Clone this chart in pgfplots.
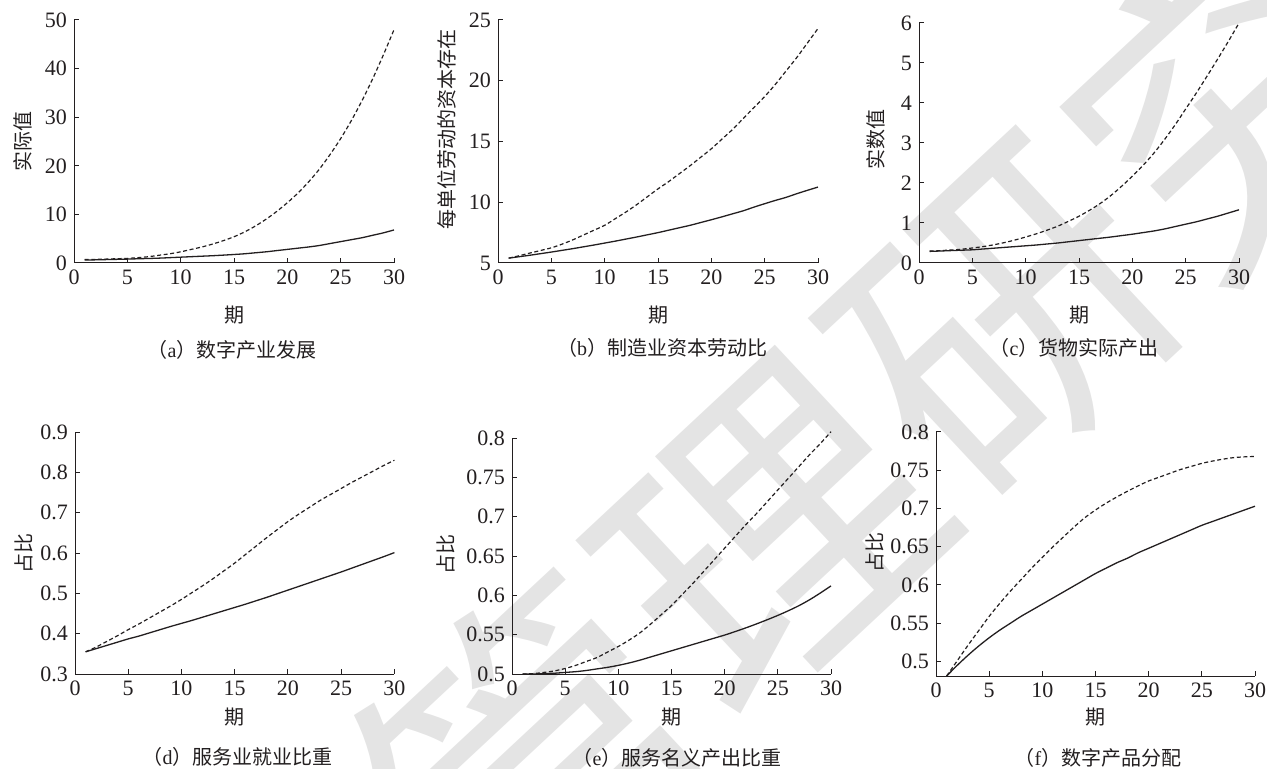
\documentclass[border=0pt]{standalone}
\usepackage{fontspec}
\setmainfont{Liberation Serif}
\newfontfamily\tnr{Liberation Serif}
\newfontfamily\cjk{Noto Sans CJK SC}
\usepackage{pgfplots}
\pgfplotsset{compat=1.18}
\definecolor{ink}{RGB}{35,31,32}
\definecolor{wmgray}{RGB}{228,228,228}
\pgfplotsset{
  sub/.style={
    scale only axis, anchor=south west,
    axis x line*=bottom, axis y line*=left,
    axis line style={-, line width=0.5pt, ink},
    xmin=0, xmax=30, xtick={0,5,...,30},
    tick align=inside, major tick length=2.5pt,
    every tick/.style={ink, line width=0.5pt},
    ticklabel style={font=\tnr\fontsize{11}{12}\selectfont, text=ink},
    /pgf/number format/assume math mode=true,
    yticklabel style={/pgf/number format/fixed, /pgf/number format/precision=2},
    label style={font=\cjk\fontsize{10}{12}\selectfont, text=ink},
    xlabel style={at={(axis description cs:0.5,0)}, anchor=center},
    clip=false,
  },
  solidl/.style={ink, line width=0.65pt, no markers, smooth},
  dashl/.style={ink, line width=0.6pt, no markers, smooth, dash pattern=on 2pt off 1.3pt},
}
\begin{document}
\begin{tikzpicture}
\path[use as bounding box] (0,0) rectangle (633.5pt,-384.5pt);

% watermark
\node[rotate=43, text=wmgray, font=\cjk\fontsize{160}{160}\selectfont, inner sep=0pt] at (442pt,-212pt) {管理研究};

% (a)
\begin{axis}[sub, at={(37pt,-131.5pt)}, width=160pt, height=121.5pt,
  ymin=0, ymax=50, ytick={0,10,...,50},
  xlabel={期}, xlabel style={yshift=-26pt},
  ylabel={实际值}, ylabel style={at={([xshift=-25.5pt]axis description cs:0,0.5)}, anchor=center}]
\addplot[dashl] coordinates {(1,0.7)(2,0.75)(3,0.8)(4,0.88)(5,0.95)(6,1.1)(7,1.3)(8,1.6)(9,1.9)(10,2.3)(11,2.8)(12,3.3)(13,3.9)(14,4.6)(15,5.4)(16,6.4)(17,7.6)(18,9.0)(19,10.6)(20,12.4)(21,14.4)(22,16.7)(23,19.3)(24,22.3)(25,25.6)(26,29.3)(27,33.4)(28,37.9)(29,42.8)(30,48.0)};
\addplot[solidl] coordinates {(1,0.6)(2,0.65)(3,0.7)(4,0.75)(5,0.8)(6,0.87)(7,0.93)(8,1.0)(9,1.1)(10,1.2)(11,1.3)(12,1.4)(13,1.5)(14,1.62)(15,1.75)(16,1.9)(17,2.1)(18,2.3)(19,2.55)(20,2.8)(21,3.05)(22,3.3)(23,3.6)(24,4.0)(25,4.4)(26,4.8)(27,5.2)(28,5.7)(29,6.2)(30,6.8)};
\end{axis}

% (b)
\begin{axis}[sub, at={(249pt,-131.5pt)}, width=160pt, height=121.5pt,
  ymin=5, ymax=25, ytick={5,10,...,25},
  xlabel={期}, xlabel style={yshift=-26pt},
  ylabel={每单位劳动的资本存在}, ylabel style={at={([xshift=-25.7pt,yshift=6pt]axis description cs:0,0.5)}, anchor=center}]
\addplot[dashl] coordinates {(1,5.40)(2,5.60)(3,5.82)(4,6.03)(5,6.25)(6,6.55)(7,6.9)(8,7.3)(9,7.7)(10,8.1)(11,8.65)(12,9.2)(13,9.8)(14,10.45)(15,11.1)(16,11.7)(17,12.35)(18,13.0)(19,13.7)(20,14.4)(21,15.2)(22,16.0)(23,16.9)(24,17.8)(25,18.7)(26,19.7)(27,20.8)(28,21.9)(29,23.1)(30,24.3)};
\addplot[solidl] coordinates {(1,5.4)(2,5.52)(3,5.64)(4,5.77)(5,5.9)(6,6.04)(7,6.18)(8,6.33)(9,6.48)(10,6.64)(11,6.8)(12,6.97)(13,7.14)(14,7.32)(15,7.5)(16,7.7)(17,7.9)(18,8.1)(19,8.33)(20,8.56)(21,8.8)(22,9.05)(23,9.3)(24,9.6)(25,9.88)(26,10.15)(27,10.4)(28,10.7)(29,10.98)(30,11.25)};
\end{axis}

% (c)
\begin{axis}[sub, at={(459.5pt,-131.5pt)}, width=160pt, height=120pt,
  ymin=0, ymax=6, ytick={0,1,...,6},
  xlabel={期}, xlabel style={yshift=-26pt},
  ylabel={实数值}, ylabel style={at={([xshift=-21.5pt,yshift=1.5pt]axis description cs:0,0.5)}, anchor=center}]
\addplot[dashl] coordinates {(1,0.3)(2,0.31)(3,0.325)(4,0.345)(5,0.375)(6,0.41)(7,0.455)(8,0.51)(9,0.575)(10,0.65)(11,0.73)(12,0.82)(13,0.92)(14,1.04)(15,1.17)(16,1.32)(17,1.49)(18,1.69)(19,1.92)(20,2.17)(21,2.44)(22,2.74)(23,3.08)(24,3.45)(25,3.85)(26,4.25)(27,4.67)(28,5.1)(29,5.54)(30,6.0)};
\addplot[solidl] coordinates {(1,0.29)(2,0.3)(3,0.31)(4,0.32)(5,0.33)(6,0.35)(7,0.37)(8,0.39)(9,0.41)(10,0.43)(11,0.45)(12,0.475)(13,0.5)(14,0.53)(15,0.56)(16,0.59)(17,0.62)(18,0.65)(19,0.685)(20,0.72)(21,0.76)(22,0.8)(23,0.85)(24,0.91)(25,0.97)(26,1.03)(27,1.1)(28,1.17)(29,1.25)(30,1.33)};
\end{axis}

% (d)
\begin{axis}[sub, at={(37.5pt,-337pt)}, width=159.7pt, height=121pt,
  ymin=0.3, ymax=0.9, ytick={0.3,0.4,...,0.9},
  xlabel={期}, xlabel style={yshift=-21.3pt},
  ylabel={占比}, ylabel style={at={([xshift=-25.8pt]axis description cs:0,0.5)}, anchor=center}]
\addplot[dashl] coordinates {(1,0.355)(2,0.367)(3,0.381)(4,0.395)(5,0.41)(6,0.424)(7,0.439)(8,0.454)(9,0.469)(10,0.485)(11,0.502)(12,0.519)(13,0.537)(14,0.556)(15,0.575)(16,0.596)(17,0.617)(18,0.638)(19,0.658)(20,0.678)(21,0.696)(22,0.713)(23,0.73)(24,0.745)(25,0.76)(26,0.775)(27,0.789)(28,0.803)(29,0.817)(30,0.83)};
\addplot[solidl] coordinates {(1,0.355)(2,0.363)(3,0.371)(4,0.379)(5,0.387)(6,0.394)(7,0.402)(8,0.41)(9,0.418)(10,0.4255)(11,0.433)(12,0.441)(13,0.449)(14,0.457)(15,0.465)(16,0.473)(17,0.4815)(18,0.49)(19,0.499)(20,0.508)(21,0.517)(22,0.526)(23,0.535)(24,0.544)(25,0.553)(26,0.5625)(27,0.572)(28,0.5815)(29,0.591)(30,0.601)};
\end{axis}

% (e)
\begin{axis}[sub, at={(256pt,-337pt)}, width=159.5pt, height=118pt,
  ymin=0.5, ymax=0.8, ytick={0.5,0.55,...,0.8},
  xlabel={期}, xlabel style={yshift=-21.3pt},
  ylabel={占比}, ylabel style={at={([xshift=-33pt,yshift=1pt]axis description cs:0,0.5)}, anchor=center}]
\addplot[dashl] coordinates {(1,0.5)(2,0.5005)(3,0.502)(4,0.504)(5,0.507)(6,0.511)(7,0.516)(8,0.521)(9,0.528)(10,0.535)(11,0.543)(12,0.552)(13,0.563)(14,0.575)(15,0.587)(16,0.601)(17,0.615)(18,0.630)(19,0.645)(20,0.660)(21,0.675)(22,0.690)(23,0.704)(24,0.719)(25,0.734)(26,0.749)(27,0.764)(28,0.779)(29,0.793)(30,0.808)};
\addplot[solidl] coordinates {(1,0.5)(2,0.5)(3,0.5005)(4,0.501)(5,0.502)(6,0.503)(7,0.5045)(8,0.5065)(9,0.5085)(10,0.511)(11,0.514)(12,0.5175)(13,0.5215)(14,0.5255)(15,0.5295)(16,0.5335)(17,0.5375)(18,0.5415)(19,0.5455)(20,0.5495)(21,0.554)(22,0.5587)(23,0.5637)(24,0.569)(25,0.5745)(26,0.5805)(27,0.587)(28,0.5945)(29,0.603)(30,0.612)};
\end{axis}

% (f)
\begin{axis}[sub, at={(468pt,-338pt)}, width=159.5pt, height=122pt,
  ymin=0.481, ymax=0.8, ytick={0.5,0.55,...,0.8},
  xlabel={期}, xlabel style={yshift=-20.3pt},
  ylabel={占比}, ylabel style={at={([xshift=-30.5pt,yshift=0.7pt]axis description cs:0,0.5)}, anchor=center}]
\addplot[dashl] coordinates {(1,0.481)(2,0.501)(3,0.521)(4,0.540)(5,0.559)(6,0.576)(7,0.592)(8,0.607)(9,0.622)(10,0.636)(11,0.65)(12,0.663)(13,0.676)(14,0.688)(15,0.698)(16,0.707)(17,0.715)(18,0.7225)(19,0.7295)(20,0.736)(21,0.741)(22,0.746)(23,0.751)(24,0.755)(25,0.759)(26,0.762)(27,0.7645)(28,0.7665)(29,0.7675)(30,0.768)};
\addplot[solidl] coordinates {(1,0.481)(2,0.495)(3,0.508)(4,0.52)(5,0.531)(6,0.541)(7,0.55)(8,0.559)(9,0.567)(10,0.575)(11,0.583)(12,0.591)(13,0.599)(14,0.607)(15,0.615)(16,0.622)(17,0.629)(18,0.635)(19,0.642)(20,0.648)(21,0.654)(22,0.660)(23,0.666)(24,0.672)(25,0.678)(26,0.683)(27,0.688)(28,0.693)(29,0.698)(30,0.703)};
\end{axis}

% captions
\begin{scope}[every node/.style={font=\tnr\fontsize{10}{12}\selectfont, text=ink, inner sep=0pt}]
\node at (116pt,-175pt) {{\cjk （}a{\cjk ）数字产业发展}};
\node at (331pt,-174pt) {{\cjk （}b{\cjk ）制造业资本劳动比}};
\node at (537pt,-174pt) {{\cjk （}c{\cjk ）货物实际产出}};
\node at (118.75pt,-378.5pt) {{\cjk （}d{\cjk ）服务业就业比重}};
\node at (338.5pt,-379pt) {{\cjk （}e{\cjk ）服务名义产出比重}};
\node at (549pt,-379pt) {{\cjk （}f{\cjk ）数字产品分配}};
\end{scope}
\end{tikzpicture}
\end{document}
